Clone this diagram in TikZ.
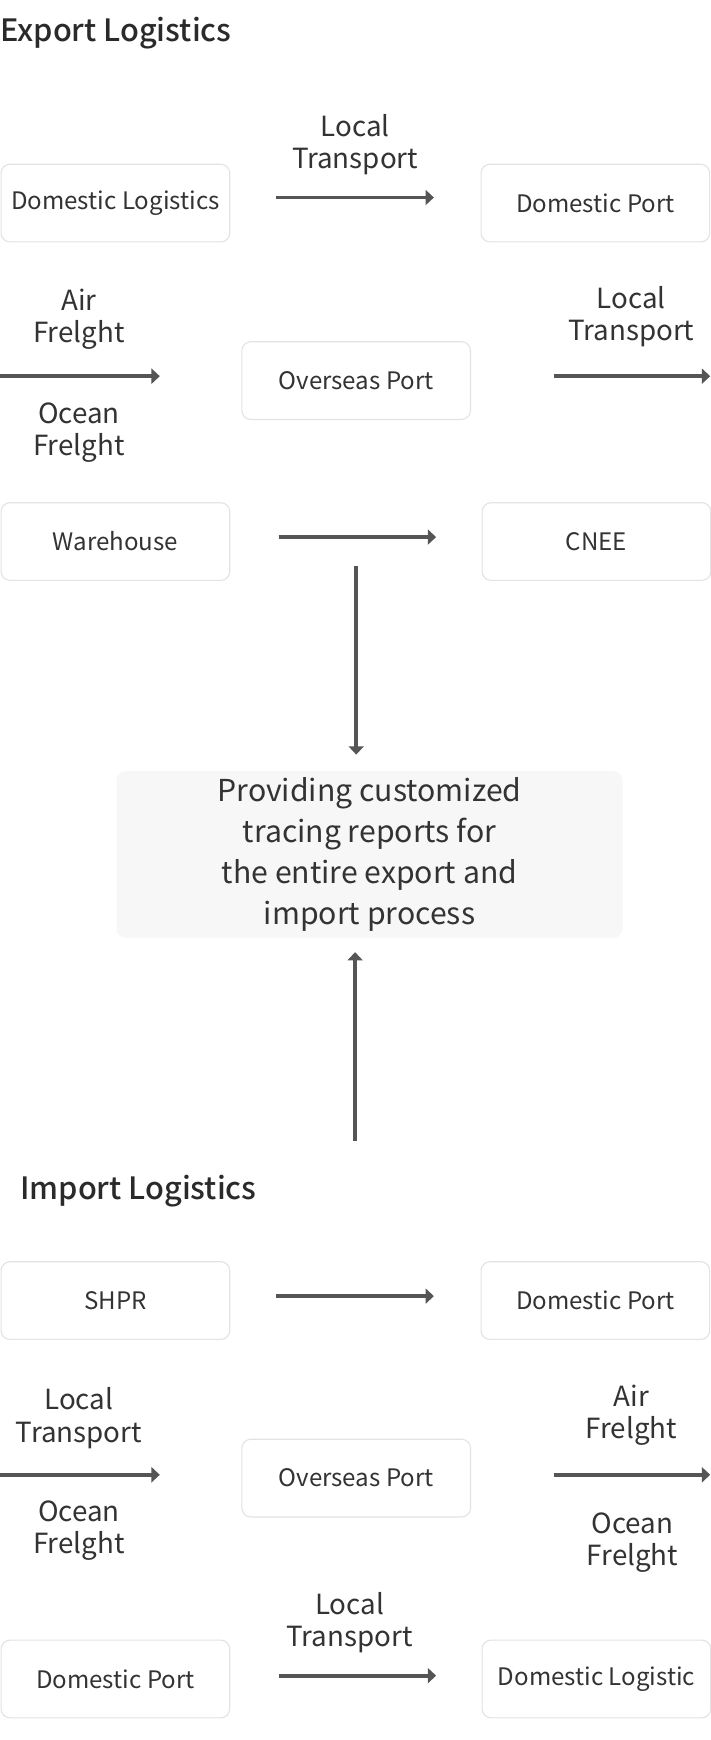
\documentclass[tikz,border=0pt]{standalone}
\usepackage{fontspec}
\setmainfont{Noto Sans CJK SC}
\IfFontExistsTF{Noto Sans CJK SC Medium}
  {\newfontfamily\ttlfont{Noto Sans CJK SC Medium}}
  {\newfontfamily\ttlfont[FakeBold=1.2]{Noto Sans CJK SC}}
\usetikzlibrary{arrows.meta}
\definecolor{txt}{HTML}{333333}
\definecolor{ttlc}{HTML}{2A2A2A}
\definecolor{arrc}{HTML}{555555}
\definecolor{bord}{HTML}{E3E3E3}
\definecolor{panel}{HTML}{F7F7F7}
\tikzset{
  stepbox/.style={draw=bord, line width=1pt, rounded corners=8pt, minimum width=206pt, minimum height=70pt, inner sep=0pt, text=txt, font=\fontsize{21.7}{26}\selectfont},
  flowarr/.style={draw=arrc, line width=3.5pt, -{Triangle[length=7.5pt,width=13.5pt]}},
  lbl/.style={text=txt, align=center, inner sep=0pt, font=\fontsize{25}{29}\selectfont},
  ttl/.style={text=ttlc, anchor=west, inner sep=0pt, font=\fontsize{27.7}{32}\ttlfont},
}
\begin{document}
\begin{tikzpicture}[x=1pt,y=-1pt]
\useasboundingbox (0,0) rectangle (640,1568);
\fill[white] (0,0) rectangle (640,1568);
% Export
\node[ttl] (t1) at (0,30) {Export Logistics};
\node[stepbox] (e1) at (104,183) {Domestic Logistics};
\node[stepbox] (e2) at (536.5,183) {Domestic Port};
\node[stepbox] (e3) at (321,343) {Overseas Port};
\node[stepbox] (e4) at (104,488) {Warehouse};
\node[stepbox] (e5) at (537.5,488) {CNEE};
\coordinate (ea1s) at (249,178); \coordinate (ea1e) at (391,178);
\coordinate (ea2s) at (0,339); \coordinate (ea2e) at (144,339);
\coordinate (ea3s) at (499,339); \coordinate (ea3e) at (640,339);
\coordinate (ea4s) at (251,484); \coordinate (ea4e) at (393,484);
\draw[flowarr] (ea1s) -- (ea1e);
\draw[flowarr] (ea2s) -- (ea2e);
\draw[flowarr] (ea3s) -- (ea3e);
\draw[flowarr] (ea4s) -- (ea4e);
\node[lbl] (el1) at (320,130) {Local\\Transport};
\node[lbl] (el2) at (71,288) {Air\\Frelght};
\node[lbl] (el3) at (71,390) {Ocean\\Frelght};
\node[lbl] (el4) at (569,285) {Local\\Transport};
% Center
\node[fill=panel, rounded corners=8pt, minimum width=456pt, minimum height=150pt, inner sep=0pt, text=txt, align=center, font=\fontsize{27.2}{37}\selectfont] (c) at (333,770) {Providing customized\\tracing reports for\\the entire export and\\import process};
\coordinate (v1s) at (321,510); \coordinate (v1e) at (321,680);
\coordinate (v2s) at (320,1028); \coordinate (v2e) at (320,858);
\draw[flowarr] (v1s) -- (v1e);
\draw[flowarr] (v2s) -- (v2e);
% Import
\node[ttl] (t2) at (18,1073) {Import Logistics};
\node[stepbox] (i1) at (104,1172) {SHPR};
\node[stepbox] (i2) at (536.5,1172) {Domestic Port};
\node[stepbox] (i3) at (321,1332) {Overseas Port};
\node[stepbox] (i4) at (104,1513) {Domestic Port};
\node[stepbox] (i5) at (537.5,1513) {Domestic Logistic};
\coordinate (ia1s) at (249,1168); \coordinate (ia1e) at (391,1168);
\coordinate (ia2s) at (0,1329); \coordinate (ia2e) at (144,1329);
\coordinate (ia3s) at (499,1329); \coordinate (ia3e) at (640,1329);
\coordinate (ia4s) at (251,1510); \coordinate (ia4e) at (393,1510);
\draw[flowarr] (ia1s) -- (ia1e);
\draw[flowarr] (ia2s) -- (ia2e);
\draw[flowarr] (ia3s) -- (ia3e);
\draw[flowarr] (ia4s) -- (ia4e);
\node[lbl] (il1) at (71,1278) {Local\\Transport};
\node[lbl] (il2) at (71,1379) {Ocean\\Frelght};
\node[lbl] (il3) at (569,1275) {Air\\Frelght};
\node[lbl] (il4) at (570,1390) {Ocean\\Frelght};
\node[lbl] (il5) at (315,1462) {Local\\Transport};
\end{tikzpicture}
\end{document}
